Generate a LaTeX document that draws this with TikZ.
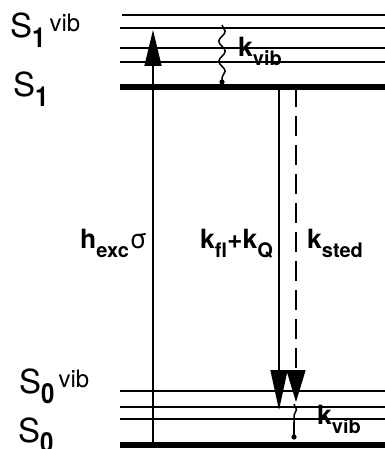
\documentclass[tikz,border=0pt]{standalone}
\usepackage{graphicx}
\usepackage{fontspec}
\setmainfont{TeX Gyre Heros}
\usetikzlibrary{arrows.meta,decorations.pathmorphing}
\newcommand\bigsub[1]{\raisebox{-10pt}{\scalebox{1}[1.15]{\fontsize{24}{24}\selectfont\bfseries #1}}}
\newcommand\bigsup[1]{\hspace{4pt}\raisebox{6pt}{\fontsize{24}{24}\selectfont #1}}
\newcommand\ksub[1]{\raisebox{-9pt}{\fontsize{20}{20}\selectfont\bfseries #1}}
\begin{document}
\begin{tikzpicture}[x=1pt,y=-1pt,
  level/.style={line width=2.5pt},
  mainlevel/.style={line width=5.5pt},
  trans/.style={line width=1.5pt},
  wavy/.style={line width=1.5pt,decorate,decoration={snake,amplitude=3.2pt,segment length=20pt}},
  lbl/.style={inner sep=0pt,anchor=base west,font=\fontsize{33}{35}\selectfont},
  klbl/.style={inner sep=0pt,anchor=base west,font=\fontsize{26.5}{28}\selectfont\bfseries}]
\useasboundingbox (0,0) rectangle (384,449);
% level coordinates
\coordinate (a1) at (122,15);  \coordinate (b1) at (386,15);
\coordinate (a2) at (120,28);  \coordinate (b2) at (386,28);
\coordinate (a3) at (120,48);  \coordinate (b3) at (386,48);
\coordinate (a4) at (120,62);  \coordinate (b4) at (386,62);
\coordinate (s1a) at (120,87); \coordinate (s1b) at (386,87);
\coordinate (c1) at (120,391); \coordinate (d1) at (386,391);
\coordinate (c2) at (120,407); \coordinate (d2) at (386,407);
\coordinate (c3) at (120,419); \coordinate (d3) at (386,419);
\coordinate (s0a) at (120,445); \coordinate (s0b) at (386,445);
% labels
\node[lbl] (S1v) at (10,38) {S\bigsub{1}\bigsup{vib}};
\node[lbl] (S1) at (13,97) {S\bigsub{1}};
\node[lbl] (S0v) at (19,393) {S\bigsub{0}\bigsup{vib}};
\node[lbl] (S0) at (18,442) {S\bigsub{0}};
% rate labels
\node[klbl] (kv1) at (238,57) {k\ksub{vib}};
\node[klbl] (kv2) at (317,424) {k\ksub{vib}};
\node[klbl] (hex) at (80,248) {h\ksub{exc}\hspace{1pt}{\mdseries σ}};
\node[klbl] (kfl) at (200,248) {k\ksub{fl}+k\ksub{Q}};
\node[klbl] (kst) at (307,248) {k\ksub{sted}};
% levels
\draw[level] (a1) -- (b1);
\draw[level] (a2) -- (b2);
\draw[level] (a3) -- (b3);
\draw[level] (a4) -- (b4);
\draw[mainlevel] (s1a) -- (s1b);
\draw[level] (c1) -- (d1);
\draw[level] (c2) -- (d2);
\draw[level] (c3) -- (d3);
\draw[mainlevel] (s0a) -- (s0b);
% transitions
\coordinate (exB) at (153,445); \coordinate (exT) at (153,30);
\draw[trans,-{Triangle[length=36pt,width=17pt]}] (exB) -- (exT);
\coordinate (flT) at (279,87); \coordinate (flB) at (279,410);
\draw[trans,-{Triangle[length=40pt,width=17pt]}] (flT) -- (flB);
\coordinate (stT) at (296,87); \coordinate (stB) at (296,402);
\draw[trans,dash pattern=on 20pt off 9pt,-{Triangle[length=32pt,width=19pt]}] (stT) -- (stB);
% vibrational relaxation
\coordinate (v1T) at (222,25); \coordinate (v1B) at (222,82);
\draw[wavy] (v1T) -- (v1B);
\fill (v1B) circle (2.6pt);
\coordinate (v2T) at (294,404); \coordinate (v2M) at (294,422); \coordinate (v2B) at (294,437);
\draw[line width=1.5pt,decorate,decoration={snake,amplitude=2.5pt,segment length=18pt}] (v2T) -- (v2M);
\draw[line width=1.5pt] (v2M) -- (v2B);
\fill (v2B) circle (2.6pt);
\end{tikzpicture}
\end{document}
